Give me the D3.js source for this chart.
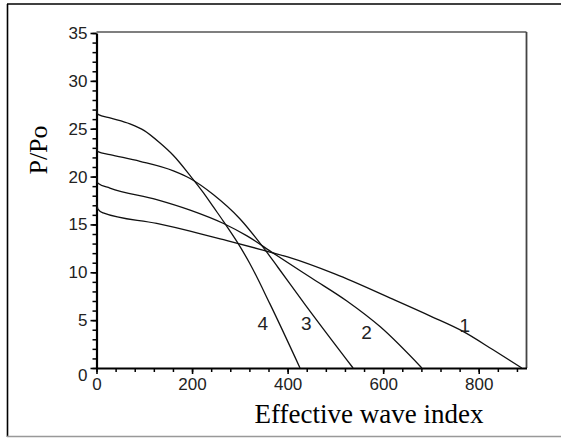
<!DOCTYPE html>
<html>
<head>
<meta charset="utf-8">
<script src="https://cdn.jsdelivr.net/npm/d3@7"></script>
<style>
  body { margin: 0; background: #fff; }
  svg { display: block; }
</style>
</head>
<body>
<div id="chart"></div>
<script>
// curves: [effective wave index, P/Po]
var curve1 = [[0,17.4],[3,16.6],[14,16.2],[126,15.1],[196,14.3],[266,13.4],[342,12.4],[400,11.6],[500,9.8],[615,7.3],[700,5.4],[768,3.8],[830,1.9],[890,0]];
var curve2 = [[0,20.0],[3,19.3],[28,18.8],[126,17.6],[196,16.5],[266,15.1],[315,13.8],[370,12.0],[450,9.4],[524,7.0],[594,4.3],[681,0]];
var curve3 = [[0,23.2],[3,22.6],[28,22.3],[91,21.6],[161,20.6],[196,19.8],[245,18.1],[300,15.6],[349,12.6],[380,10.5],[437,6.6],[537,0]];
var curve4 = [[0,27.2],[3,26.5],[30,26.1],[70,25.5],[100,24.8],[133,23.5],[161,22.2],[196,20.1],[224,18.3],[245,16.8],[266,15.3],[294,13.2],[320,11.0],[363,6.7],[426,0]];
var curves = [curve1, curve2, curve3, curve4];

// curve number labels, placed in data units
var labelNames = ["1", "2", "3", "4"];
var labelX = [771, 565, 439, 348];
var labelY = [4.4, 3.7, 4.6, 4.7];

var xTicks = [0, 200, 400, 600, 800];
var yTicks = [0, 5, 10, 15, 20, 25, 30, 35];

var W = 561, H = 438;
var svg = d3.select("#chart").append("svg")
  .attr("width", W)
  .attr("height", H);

// outer frame
svg.append("line").attr("x1", 7).attr("x2", W).attr("y1", 4).attr("y2", 4)
  .attr("stroke", "#000").attr("stroke-width", 1.6);
svg.append("line").attr("x1", 7.5).attr("x2", 7.5).attr("y1", 4).attr("y2", 437)
  .attr("stroke", "#000").attr("stroke-width", 1.6);
svg.append("line").attr("x1", 7).attr("x2", W).attr("y1", 436.5).attr("y2", 436.5)
  .attr("stroke", "#999").attr("stroke-width", 1.3);

var x = d3.scaleLinear().domain([0, 900]).range([96.5, 526.5]);
var y = d3.scaleLinear().domain([0, 35]).range([368, 33]);

// plot frame top / right
svg.append("line").attr("x1", x(0)).attr("x2", x(900)).attr("y1", y(35) - 1).attr("y2", y(35) - 1)
  .attr("stroke", "#555").attr("stroke-width", 1.3);
svg.append("line").attr("x1", x(900)).attr("x2", x(900)).attr("y1", y(35) - 1).attr("y2", y(0))
  .attr("stroke", "#444").attr("stroke-width", 1.8);

// minor ticks
svg.append("g").attr("transform", "translate(0," + y(0) + ")")
  .call(d3.axisBottom(x).tickValues(d3.range(0, 900, 40)).tickSize(4).tickFormat(""))
  .call(function(g) { g.select(".domain").remove(); g.selectAll("line").attr("stroke-width", 1.5); });
svg.append("g").attr("transform", "translate(" + x(0) + ",0)")
  .call(d3.axisLeft(y).tickValues(d3.range(0, 36, 1)).tickSize(4).tickFormat(""))
  .call(function(g) { g.select(".domain").remove(); g.selectAll("line").attr("stroke-width", 1.5); });

// major axes
var xAxis = svg.append("g").attr("transform", "translate(0," + y(0) + ")")
  .call(d3.axisBottom(x).tickValues(xTicks).tickSize(6).tickSizeOuter(0).tickPadding(4));
var yAxis = svg.append("g").attr("transform", "translate(" + x(0) + ",0)")
  .call(d3.axisLeft(y).tickValues(yTicks).tickSize(6).tickSizeOuter(0).tickPadding(3));

[xAxis, yAxis].forEach(function(g) {
  g.select(".domain").attr("stroke", "#000").attr("stroke-width", 2.2);
  g.selectAll(".tick line").attr("stroke-width", 1.6);
  g.selectAll(".tick text")
    .attr("font-family", "'Liberation Sans', Arial, sans-serif")
    .attr("font-size", 17)
    .attr("fill", "#222");
});
yAxis.selectAll(".tick").filter(function(d) { return d === 0; })
  .select("text").attr("dy", "0.75em");

// curves
var line = d3.line()
  .x(function(d) { return x(d[0]); })
  .y(function(d) { return y(d[1]); })
  .curve(d3.curveMonotoneX);

svg.selectAll(".curve")
  .data(curves)
  .enter()
  .append("path")
  .attr("class", "curve")
  .attr("d", line)
  .attr("fill", "none")
  .attr("stroke", "#111")
  .attr("stroke-width", 1.3);

svg.selectAll(".clabel")
  .data(labelNames)
  .enter()
  .append("text")
  .attr("class", "clabel")
  .attr("x", function(d, i) { return x(labelX[i]); })
  .attr("y", function(d, i) { return y(labelY[i]); })
  .attr("text-anchor", "middle")
  .attr("dominant-baseline", "central")
  .attr("font-family", "'Liberation Sans', Arial, sans-serif")
  .attr("font-size", 19)
  .attr("fill", "#222")
  .text(function(d) { return d; });

// axis titles
svg.append("text")
  .attr("x", 369)
  .attr("y", 423)
  .attr("text-anchor", "middle")
  .attr("font-family", "'Liberation Serif', 'Times New Roman', serif")
  .attr("font-size", 27)
  .text("Effective wave index");

svg.append("text")
  .attr("transform", "translate(47,150) rotate(-90)")
  .attr("text-anchor", "middle")
  .attr("font-family", "'Liberation Serif', 'Times New Roman', serif")
  .attr("font-size", 26)
  .text("P/Po");
</script>
</body>
</html>
